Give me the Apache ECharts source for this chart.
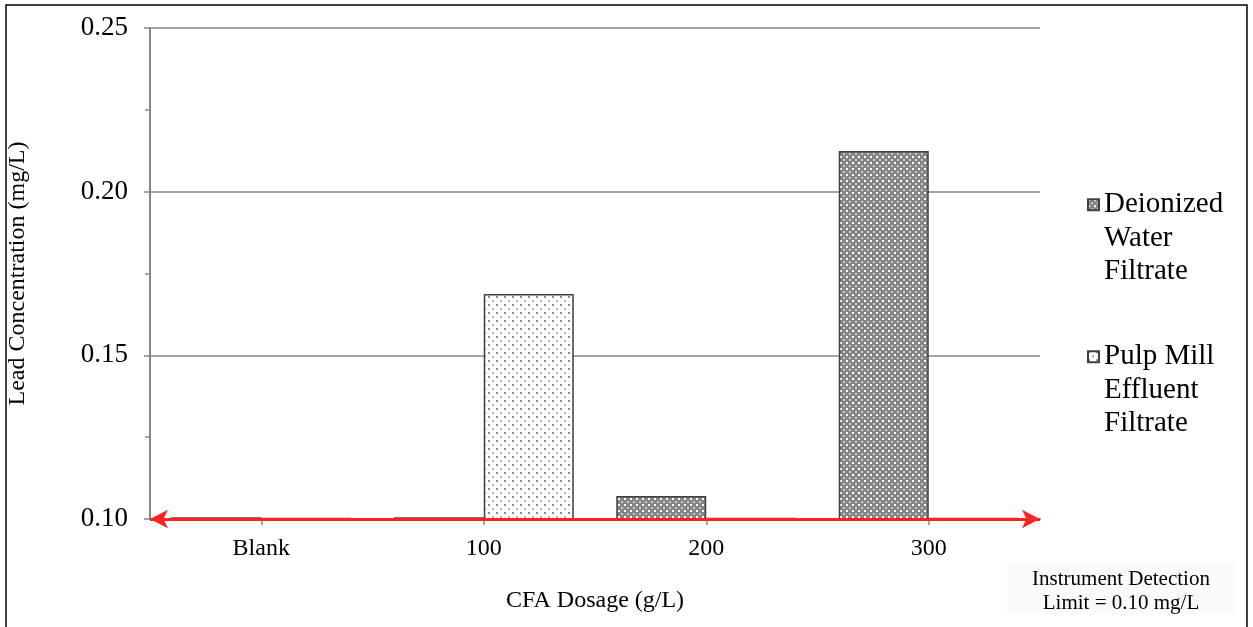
<!DOCTYPE html>
<html>
<head>
<meta charset="utf-8">
<script src="https://cdn.jsdelivr.net/npm/echarts@6/dist/echarts.min.js"></script>
<style>
html,body{margin:0;padding:0;background:#fff;}
#c{width:1253px;height:627px;}
</style>
</head>
<body>
<div id="c"></div>
<script>
var categories = ['Blank', '100', '200', '300'];
var deionized = [0.1005, 0.1005, 0.107, 0.2124];
var pulpMill = [0.1004, 0.1687, 0.1004, 0.1004];
var seriesNames = ['Deionized\nWater\nFiltrate', 'Pulp Mill\nEffluent\nFiltrate'];
var detectionLimit = 0.101;

function makePattern(kind) {
  var cv = document.createElement('canvas');
  var ctx = cv.getContext('2d');
  if (kind === 'dense') {
    cv.width = 6; cv.height = 6;
    ctx.fillStyle = '#858585'; ctx.fillRect(0, 0, 6, 6);
    ctx.fillStyle = '#ffffff'; ctx.fillRect(0, 0, 2, 2);
    ctx.fillStyle = '#c8c8c8'; ctx.fillRect(3, 3, 2, 2);
  } else {
    cv.width = 8; cv.height = 8;
    ctx.fillStyle = '#ffffff'; ctx.fillRect(0, 0, 8, 8);
    ctx.fillStyle = '#8a8a8a'; ctx.fillRect(0, 0, 2, 2);
    ctx.fillStyle = '#b0b0b0'; ctx.fillRect(4, 4, 2, 2);
  }
  return cv;
}

var chart = echarts.init(document.getElementById('c'), null, {renderer: 'canvas'});
var serif = '"Liberation Serif", "DejaVu Serif", serif';

function legendFor(name, top) {
  return {
    orient: 'vertical',
    left: 1087,
    top: top,
    padding: 0,
    itemWidth: 11,
    itemHeight: 11,
    icon: 'rect',
    formatter: function (n) { return '\n\n' + n; },
    textStyle: {fontFamily: serif, fontSize: 29, color: '#000', lineHeight: 33.5},
    data: [name]
  };
}

chart.setOption({
  animation: false,
  backgroundColor: '#ffffff',
  textStyle: {fontFamily: serif},
  grid: {left: 150, right: 213, top: 28, bottom: 108, containLabel: false, outerBoundsMode: 'none'},
  legend: [legendFor(seriesNames[0], 121), legendFor(seriesNames[1], 273)],
  xAxis: {
    type: 'category',
    data: categories,
    name: 'CFA Dosage (g/L)',
    nameLocation: 'middle',
    nameGap: 70,
    nameTextStyle: {fontFamily: serif, fontSize: 24, color: '#000'},
    axisLine: {show: true, lineStyle: {color: '#878787', width: 2}},
    axisTick: {show: true, alignWithLabel: true, length: 6, lineStyle: {color: '#878787', width: 1.5}},
    axisLabel: {fontFamily: serif, fontSize: 24, color: '#000', margin: 18},
    splitLine: {show: false}
  },
  yAxis: {
    type: 'value',
    min: 0.10,
    max: 0.25,
    interval: 0.05,
    name: 'Lead Concentration (mg/L)',
    nameLocation: 'middle',
    nameGap: 120,
    nameRotate: 90,
    nameTextStyle: {fontFamily: serif, fontSize: 24, color: '#000'},
    axisLine: {show: true, lineStyle: {color: '#878787', width: 2}},
    axisTick: {show: true, length: 6, lineStyle: {color: '#878787', width: 1.5}},
    minorTick: {show: true, splitNumber: 2, length: 5, lineStyle: {color: '#878787', width: 1.5}},
    axisLabel: {fontFamily: serif, fontSize: 27, color: '#000', margin: 22, formatter: function (v) { return v.toFixed(2); }},
    splitLine: {show: true, lineStyle: {color: '#878787', width: 1.5}}
  },
  series: [
    {
      name: seriesNames[0],
      type: 'bar',
      data: deionized,
      barWidth: 90,
      barGap: '0%',
      itemStyle: {color: {image: makePattern('dense'), repeat: 'repeat'}, borderColor: '#404040', borderWidth: 1.5},
      z: 2
    },
    {
      name: seriesNames[1],
      type: 'bar',
      data: pulpMill,
      barWidth: 90,
      barGap: '0%',
      itemStyle: {color: {image: makePattern('sparse'), repeat: 'repeat'}, borderColor: '#404040', borderWidth: 1.5},
      z: 2,
      markLine: {
        silent: true,
        symbol: ['arrow', 'arrow'],
        symbolSize: [14, 18],
        label: {show: false},
        lineStyle: {color: '#ff2222', width: 3, type: 'solid'},
        data: [{yAxis: detectionLimit}],
        z: 5
      }
    }
  ],
  graphic: [
    {
      type: 'rect',
      shape: {x: 6, y: 5, width: 1241, height: 640},
      style: {fill: 'none', stroke: '#000', lineWidth: 1.5},
      silent: true
    },
    {
      type: 'rect',
      shape: {x: 1007, y: 564, width: 229, height: 50},
      style: {fill: '#fbfafa', stroke: 'none'},
      silent: true
    },
    {
      type: 'text',
      x: 1121,
      y: 591,
      style: {
        text: 'Instrument Detection\nLimit = 0.10 mg/L',
        fontFamily: serif,
        fontSize: 21,
        lineHeight: 24,
        fill: '#000',
        align: 'center',
        verticalAlign: 'middle'
      },
      silent: true
    }
  ]
});
</script>
</body>
</html>
